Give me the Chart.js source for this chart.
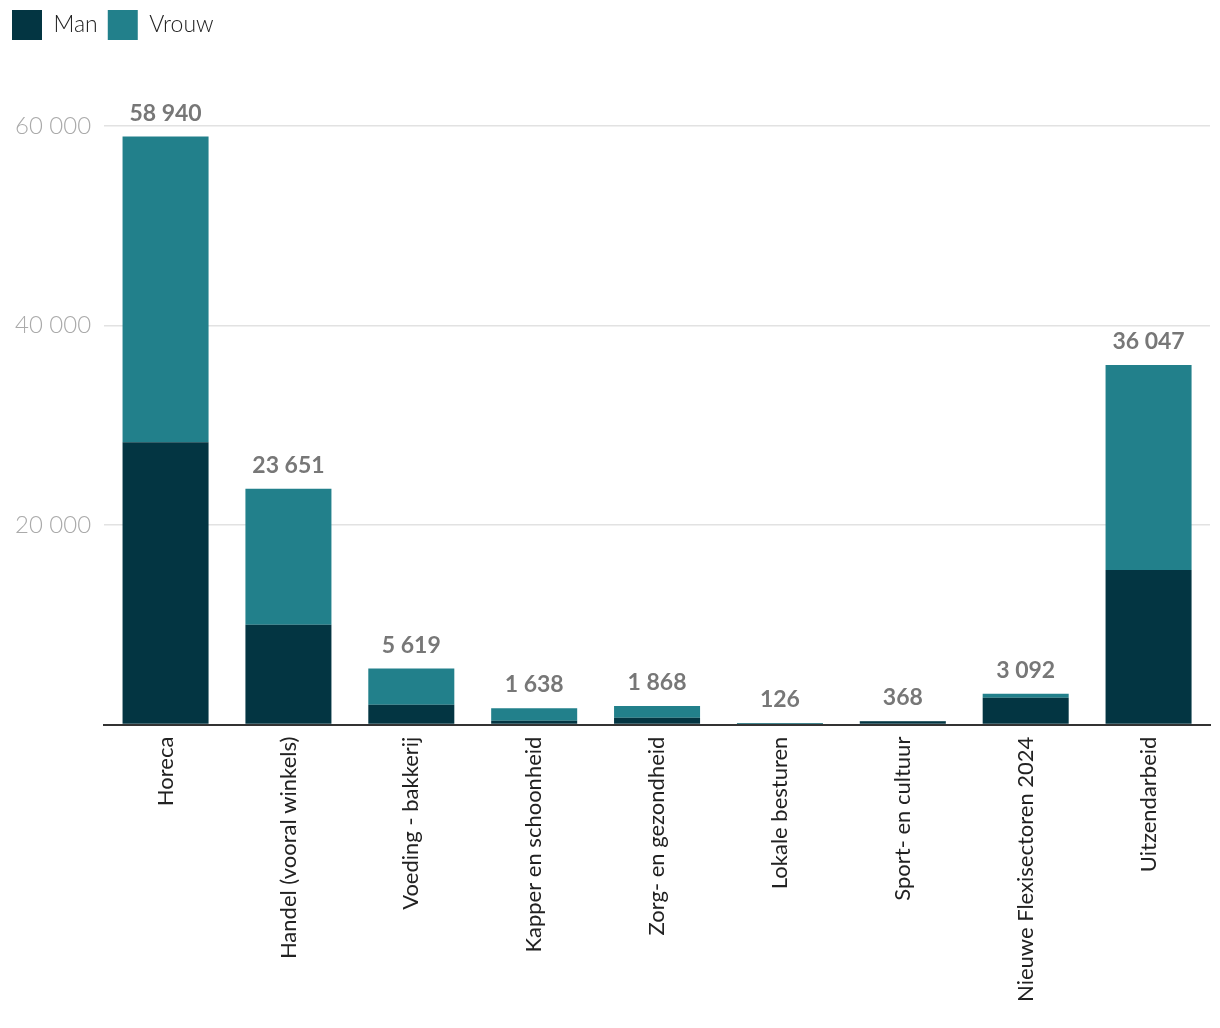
<!DOCTYPE html>
<html>
<head>
<meta charset="utf-8">
<script src="https://cdn.jsdelivr.net/npm/chart.js@4.4.1/dist/chart.umd.min.js"></script>
<style>
    html, body { margin: 0; padding: 0; background: #fff; }
    #wrap { width: 1220px; height: 1028px; position: relative; }
</style>
</head>
<body>
<div id="wrap"><canvas id="chart"></canvas></div>
<script>
const categories = [
    'Horeca', 'Handel (vooral winkels)', 'Voeding - bakkerij', 'Kapper en schoonheid',
    'Zorg- en gezondheid', 'Lokale besturen', 'Sport- en cultuur',
    'Nieuwe Flexisectoren 2024', 'Uitzendarbeid'
];
const manValues = [28300, 10000, 2000, 400, 700, 50, 330, 2700, 15500];
const vrouwValues = [30640, 13651, 3619, 1238, 1168, 76, 38, 392, 20547];
const totals = [58940, 23651, 5619, 1638, 1868, 126, 368, 3092, 36047];
const yTicks = [0, 20000, 40000, 60000];

const fontFamily = 'Lato, "Noto Sans", sans-serif';

// thousands separated by a space
function fmt(n) {
    return String(n).replace(/\B(?=(\d{3})+(?!\d))/g, ' ');
}

// Draw totals above each stack
const totalLabels = {
    id: 'totalLabels',
    afterDatasetsDraw(chart) {
        const ctx = chart.ctx;
        const meta = chart.getDatasetMeta(1);
        const y = chart.scales.y;
        ctx.save();
        ctx.font = 'bold 23px ' + fontFamily;
        ctx.fillStyle = '#777';
        ctx.textAlign = 'center';
        ctx.textBaseline = 'alphabetic';
        meta.data.forEach((bar, i) => {
            ctx.fillText(fmt(totals[i]), bar.x, y.getPixelForValue(totals[i]) - 16);
        });
        ctx.restore();
    }
};

new Chart(document.getElementById('chart'), {
    type: 'bar',
    data: {
        labels: categories,
        datasets: [
            { label: 'Man', data: manValues, backgroundColor: '#033542' },
            { label: 'Vrouw', data: vrouwValues, backgroundColor: '#22808b' }
        ]
    },
    options: {
        responsive: true,
        maintainAspectRatio: false,
        animation: false,
        layout: { padding: { left: 2, right: 10, top: 0, bottom: 14 } },
        datasets: { bar: { barPercentage: 0.7, categoryPercentage: 1 } },
        plugins: {
            legend: {
                position: 'top',
                align: 'start',
                labels: {
                    boxWidth: 30,
                    boxHeight: 30,
                    color: '#222',
                    font: { family: fontFamily, size: 23, weight: '300' },
                    padding: 10
                }
            },
            title: { display: false },
            tooltip: { enabled: false }
        },
        scales: {
            x: {
                stacked: true,
                grid: { display: false, drawTicks: false },
                border: { display: true, color: '#333', width: 2 },
                ticks: {
                    maxRotation: 90,
                    minRotation: 90,
                    padding: 12,
                    color: '#222',
                    font: { family: fontFamily, size: 22 }
                }
            },
            y: {
                stacked: true,
                min: 0,
                max: 60000,
                afterBuildTicks(axis) {
                    axis.ticks = yTicks.map(v => ({ value: v }));
                },
                grid: { color: '#e2e2e2', lineWidth: 1.5, drawTicks: false },
                border: { display: false },
                ticks: {
                    padding: 13,
                    color: '#aaa',
                    font: { family: fontFamily, size: 24, weight: '300' },
                    callback: v => v === 0 ? '' : fmt(v)
                }
            }
        }
    },
    plugins: [totalLabels, {
        id: 'legendGap',
        beforeInit(chart) {
            const fit = chart.legend.fit;
            chart.legend.fit = function () {
                fit.bind(chart.legend)();
                this.height += 76;
            };
        }
    }]
});
</script>
</body>
</html>
